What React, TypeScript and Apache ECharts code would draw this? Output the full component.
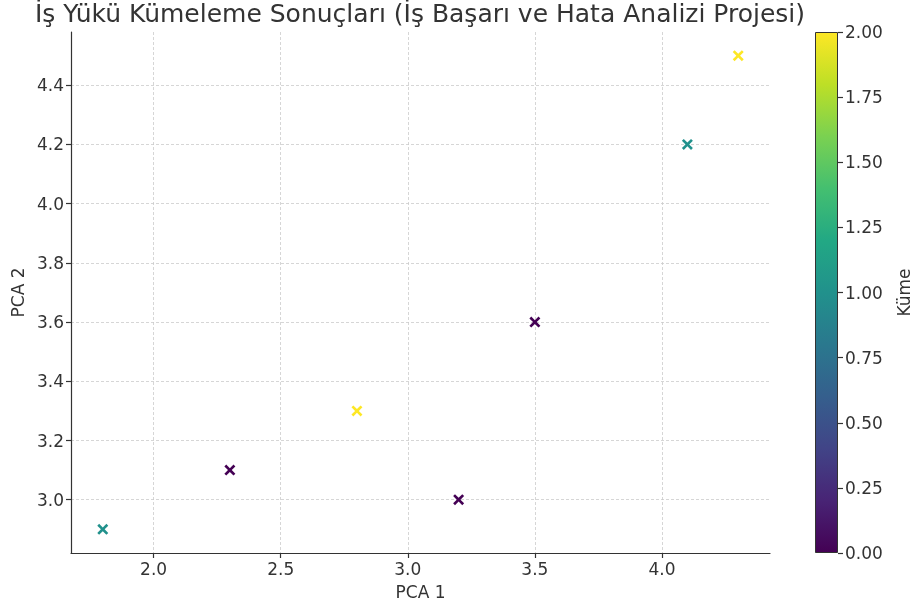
import React, { useEffect, useRef } from "react";
import * as echarts from "echarts";

const titleText = "İş Yükü Kümeleme Sonuçları (İş Başarı ve Hata Analizi Projesi)";
const xValues = [1.8, 2.3, 2.8, 3.2, 3.5, 4.1, 4.3];
const yValues = [2.9, 3.1, 3.3, 3.0, 3.6, 4.2, 4.5];
const clusters = [1, 0, 2, 0, 0, 1, 2];
const xTicks = [2.0, 2.5, 3.0, 3.5, 4.0];
const yTicks = [3.0, 3.2, 3.4, 3.6, 3.8, 4.0, 4.2, 4.4];
const cbTicks = [0, 0.25, 0.5, 0.75, 1.0, 1.25, 1.5, 1.75, 2.0];
const viridis = ["#440154", "#482475", "#414487", "#355f8d", "#2a788e", "#21918c", "#22a884", "#44bf70", "#7ad151", "#bddf26", "#fde725"];

const FONT = "DejaVu Sans";
const TXT = "#333333";

export default function App() {
  const ref = useRef<HTMLDivElement>(null);
  useEffect(() => {
    if (!ref.current) return;
    const chart = echarts.init(ref.current, null, { renderer: "svg" });
    const xMin = Math.min(...xValues), xMax = Math.max(...xValues);
    const yMin = Math.min(...yValues), yMax = Math.max(...yValues);
    const xPad = (xMax - xMin) * 0.05, yPad = (yMax - yMin) * 0.05;
    const cMin = Math.min(...clusters), cMax = Math.max(...clusters);
    const gridLine = { show: true, lineStyle: { color: "#cccccc", width: 0.8, type: [3, 2] as any } };
    const xMark = "path://M1.7,0L5,3.3L8.3,0L10,1.7L6.7,5L10,8.3L8.3,10L5,6.7L1.7,10L0,8.3L3.3,5L0,1.7Z";
    chart.setOption({
      animation: false,
      textStyle: { fontFamily: FONT },
      title: {
        text: titleText,
        left: 420,
        top: 1,
        padding: 0,
        textAlign: "center",
        textStyle: { fontFamily: FONT, fontSize: 25, fontWeight: "normal", color: TXT },
      },
      grid: [
        { left: 71, top: 32, width: 699, height: 521 },
        { left: 815, top: 32, width: 23, height: 521 },
      ],
      visualMap: {
        type: "continuous",
        show: false,
        min: cMin,
        max: cMax,
        dimension: 2,
        seriesIndex: 0,
        inRange: { color: viridis },
      },
      xAxis: [
        {
          type: "value",
          gridIndex: 0,
          min: xMin - xPad,
          max: xMax + xPad,
          minInterval: 0.5,
          maxInterval: 0.5,
          name: "PCA 1",
          nameLocation: "middle",
          nameGap: 30,
          nameTextStyle: { fontFamily: FONT, fontSize: 17, color: TXT },
          axisLine: { show: true, onZero: false, lineStyle: { color: TXT, width: 1.2 } },
          axisTick: { show: true, length: 5, customValues: xTicks, lineStyle: { color: TXT, width: 1.2 } },
          axisLabel: { customValues: xTicks, margin: 7, fontFamily: FONT, fontSize: 17, color: TXT, formatter: (v: number) => v.toFixed(1) },
          splitLine: gridLine,
        },
        { type: "category", gridIndex: 1, data: [""], show: false },
      ],
      yAxis: [
        {
          type: "value",
          gridIndex: 0,
          min: yMin - yPad,
          max: yMax + yPad,
          minInterval: 0.2,
          maxInterval: 0.2,
          name: "PCA 2",
          nameLocation: "middle",
          nameGap: 43,
          nameTextStyle: { fontFamily: FONT, fontSize: 17, color: TXT },
          axisLine: { show: true, onZero: false, lineStyle: { color: TXT, width: 1.2 } },
          axisTick: { show: true, length: 5, customValues: yTicks, lineStyle: { color: TXT, width: 1.2 } },
          axisLabel: { customValues: yTicks, margin: 7, fontFamily: FONT, fontSize: 17, color: TXT, formatter: (v: number) => v.toFixed(1) },
          splitLine: gridLine,
        },
        {
          type: "value",
          gridIndex: 1,
          position: "right",
          min: cMin,
          max: cMax,
          interval: 0.25,
          name: "Küme",
          nameLocation: "middle",
          nameGap: 57,
          nameTextStyle: { fontFamily: FONT, fontSize: 17, color: TXT },
          axisLine: { show: false },
          axisTick: { show: true, length: 5, customValues: cbTicks, lineStyle: { color: TXT, width: 1.2 } },
          axisLabel: { customValues: cbTicks, margin: 7, fontFamily: FONT, fontSize: 17, color: TXT, formatter: (v: number) => v.toFixed(2) },
          splitLine: { show: false },
        },
      ],
      series: [
        {
          type: "scatter",
          xAxisIndex: 0,
          yAxisIndex: 0,
          symbol: xMark,
          symbolSize: 11,
          itemStyle: { opacity: 1 },
          data: xValues.map((x, i) => [x, yValues[i], clusters[i]]),
          z: 5,
        },
        {
          type: "bar",
          xAxisIndex: 1,
          yAxisIndex: 1,
          barWidth: "100%",
          data: [cMax],
          silent: true,
          itemStyle: {
            color: new echarts.graphic.LinearGradient(0, 1, 0, 0, viridis.map((c, i) => ({ offset: i / (viridis.length - 1), color: c }))),
            borderColor: TXT,
            borderWidth: 1,
          },
        },
      ],
    });
    return () => chart.dispose();
  }, []);
  return <div ref={ref} style={{ position: "fixed", left: 0, top: 0, width: 916, height: 610 }} />;
}
